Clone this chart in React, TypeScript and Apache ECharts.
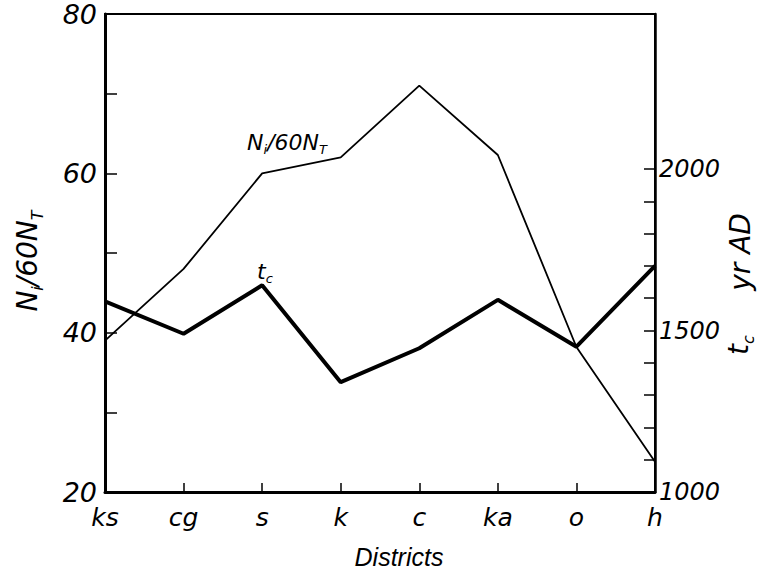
import React, { useEffect, useRef } from "react";
import * as echarts from "echarts";

// Districts along the horizontal axis
const districts = ["ks", "cg", "s", "k", "c", "ka", "o", "h"];
// N_i / 60 N_T per district (left axis)
const niRatio = [39, 48, 60, 62, 71, 62.3, 38.2, 23.8];
// t_c in years AD per district (right axis)
const tcYears = [1590, 1490, 1640, 1340, 1445, 1595, 1450, 1700];

// Tick labels
const leftLabels = [20, 40, 60, 80];
const rightTicks = [1000, 1100, 1200, 1300, 1400, 1500, 1600, 1700, 1800, 1900, 2000];
const rightLabels = [1000, 1500, 2000];

const FONT = "'DejaVu Sans', 'Liberation Sans', sans-serif";
const FONT_NARROW = "'Liberation Sans', Arial, sans-serif";

export default function App() {
  const ref = useRef<HTMLDivElement>(null);

  useEffect(() => {
    if (!ref.current) return;
    const chart = echarts.init(ref.current, null, { renderer: "svg" });

    const main = { fontSize: 28, fontStyle: "italic", fontFamily: FONT, color: "#000", lineHeight: 36 };
    const sub = { fontSize: 16, fontStyle: "italic", fontFamily: FONT, color: "#000", lineHeight: 17, verticalAlign: "bottom" };
    const mainSm = { ...main, fontSize: 22, lineHeight: 28 };
    const subSm = { ...sub, fontSize: 13, lineHeight: 13 };

    const tickFont = {
      fontSize: 25,
      fontStyle: "italic",
      fontFamily: FONT,
      color: "#000",
    };

    chart.setOption({
      animation: false,
      backgroundColor: "#fff",
      grid: {
        left: 105,
        right: 105,
        top: 14,
        bottom: 85,
        show: true,
        borderColor: "#000",
        borderWidth: 2,
        backgroundColor: "transparent",
      },
      xAxis: {
        type: "category",
        data: districts,
        boundaryGap: false,
        axisLine: { lineStyle: { color: "#000", width: 3 } },
        axisTick: { inside: true, length: 9, lineStyle: { color: "#000", width: 1.5 } },
        axisLabel: { ...tickFont, margin: 13 },
        splitLine: { show: false },
      },
      yAxis: [
        {
          type: "value",
          min: 20,
          max: 80,
          interval: 10,
          position: "left",
          axisLine: { show: true, lineStyle: { color: "#000", width: 3 } },
          axisTick: { show: true, inside: true, length: 12, lineStyle: { color: "#000", width: 1.5 } },
          axisLabel: {
            ...tickFont,
            fontSize: 27,
            margin: 8,
            formatter: (v: number) => (leftLabels.includes(v) ? String(v) : ""),
          },
          splitLine: { show: false },
        },
        {
          type: "value",
          min: 1000,
          max: 2480,
          position: "right",
          axisLine: { show: true, lineStyle: { color: "#000", width: 2.5 } },
          axisTick: {
            show: true,
            inside: true,
            length: 11,
            customValues: rightTicks,
            lineStyle: { color: "#000", width: 1.5 },
          },
          axisLabel: {
            ...tickFont,
            fontSize: 24,
            margin: 4,
            customValues: rightLabels,
            formatter: (v: number) => String(v),
          },
          splitLine: { show: false },
        },
      ],
      series: [
        {
          name: "Ni/60NT",
          type: "line",
          data: niRatio,
          yAxisIndex: 0,
          symbol: "none",
          lineStyle: { color: "#000", width: 1.8 },
          z: 3,
        },
        {
          name: "tc",
          type: "line",
          data: tcYears,
          yAxisIndex: 1,
          symbol: "none",
          lineStyle: { color: "#000", width: 4 },
          z: 4,
        },
      ],
      graphic: [
        // Left axis title: N_i / 60 N_T
        {
          type: "text",
          x: 27,
          y: 261,
          rotation: Math.PI / 2,
          style: {
            text: "{a|N}{s|i}{a|/60N}{s|T}",
            rich: { a: main, s: sub },
            align: "center",
            verticalAlign: "middle",
          },
        },
        // Right axis title: t_c
        {
          type: "text",
          x: 738,
          y: 345,
          rotation: Math.PI / 2,
          style: {
            text: "{a|t}{s|c}",
            rich: { a: main, s: sub },
            align: "center",
            verticalAlign: "middle",
          },
        },
        // Right axis title: yr AD
        {
          type: "text",
          x: 740,
          y: 252,
          rotation: Math.PI / 2,
          style: {
            text: "{a|yr AD}",
            rich: { a: main },
            align: "center",
            verticalAlign: "middle",
          },
        },
        // Curve label for N_i / 60 N_T
        {
          type: "text",
          x: 287,
          y: 142,
          style: {
            text: "{a|N}{s|i}{a|/60N}{s|T}",
            rich: { a: mainSm, s: subSm },
            align: "center",
            verticalAlign: "middle",
          },
        },
        // Curve label for t_c
        {
          type: "text",
          x: 265,
          y: 271,
          style: {
            text: "{a|t}{s|c}",
            rich: { a: mainSm, s: subSm },
            align: "center",
            verticalAlign: "middle",
          },
        },
        // Horizontal axis title
        {
          type: "text",
          x: 399,
          y: 557,
          style: {
            text: "Districts",
            font: `italic 25px ${FONT_NARROW}`,
            fill: "#000",
            align: "center",
            verticalAlign: "middle",
          },
        },
      ],
    });

    return () => chart.dispose();
  }, []);

  return <div ref={ref} style={{ width: 760, height: 577, position: "absolute", left: 0, top: 0 }} />;
}
